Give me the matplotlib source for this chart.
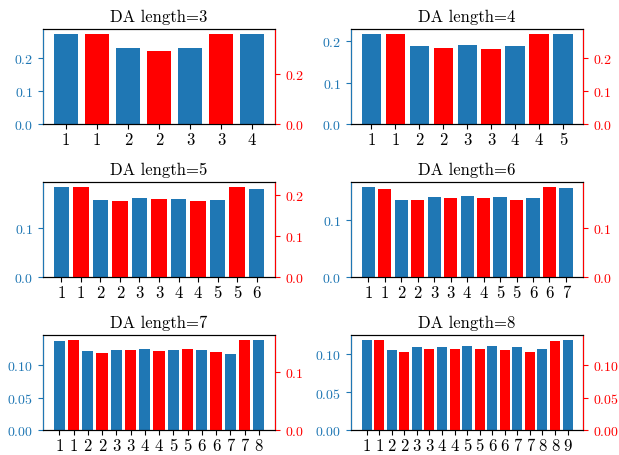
import matplotlib
matplotlib.use("Agg")
import matplotlib.pyplot as plt
import numpy as np

plt.rcParams['font.family'] = 'serif'
plt.rcParams['font.serif'] = ['cmr10']
plt.rcParams['mathtext.fontset'] = 'cm'
plt.rcParams['axes.formatter.use_mathtext'] = True

lengths = [3, 4, 5, 6, 7, 8]

# blue bars: left axis, n+1 values; red bars: right axis, n values
blue_vals = {
    3: [0.273, 0.230, 0.230, 0.273],
    4: [0.218, 0.189, 0.191, 0.189, 0.218],
    5: [0.184, 0.158, 0.162, 0.160, 0.158, 0.180],
    6: [0.157, 0.134, 0.139, 0.141, 0.139, 0.138, 0.155],
    7: [0.136, 0.121, 0.122, 0.124, 0.122, 0.122, 0.116, 0.138],
    8: [0.119, 0.106, 0.110, 0.110, 0.111, 0.111, 0.110, 0.107, 0.119],
}
red_vals = {
    3: [0.359, 0.291, 0.359],
    4: [0.273, 0.230, 0.227, 0.273],
    5: [0.220, 0.186, 0.189, 0.186, 0.220],
    6: [0.179, 0.157, 0.161, 0.161, 0.157, 0.183],
    7: [0.155, 0.133, 0.138, 0.136, 0.140, 0.134, 0.155],
    8: [0.138, 0.119, 0.124, 0.124, 0.124, 0.122, 0.119, 0.136],
}

fig, axes = plt.subplots(3, 2, figsize=(6.19, 4.56), dpi=100)
fig.subplots_adjust(left=0.0695, right=0.942, top=0.934, bottom=0.054,
                    wspace=0.328, hspace=0.61)

for ax, n in zip(axes.flat, lengths):
    b = blue_vals[n]
    r = red_vals[n]
    xb = np.arange(len(b)) * 2
    xr = np.arange(len(r)) * 2 + 1
    ax.bar(xb, b, color='tab:blue')
    ax2 = ax.twinx()
    ax2.bar(xr, r, color='red')

    ticks = np.arange(len(b) + len(r))
    labels = []
    for i in ticks:
        labels.append(str(i // 2 + 1))
    ax.set_xticks(ticks)
    ax.set_xticklabels(labels, fontsize=12)
    ax.tick_params(axis='x', pad=2)

    ax.tick_params(axis='y', colors='tab:blue', labelsize=10)
    ax2.tick_params(axis='y', colors='red', labelsize=10)
    ax2.spines['left'].set_color('tab:blue')
    ax2.spines['right'].set_color('red')
    ax.set_title('DA length=%d' % n, fontsize=12)

fig.savefig('out.png', dpi=100)
